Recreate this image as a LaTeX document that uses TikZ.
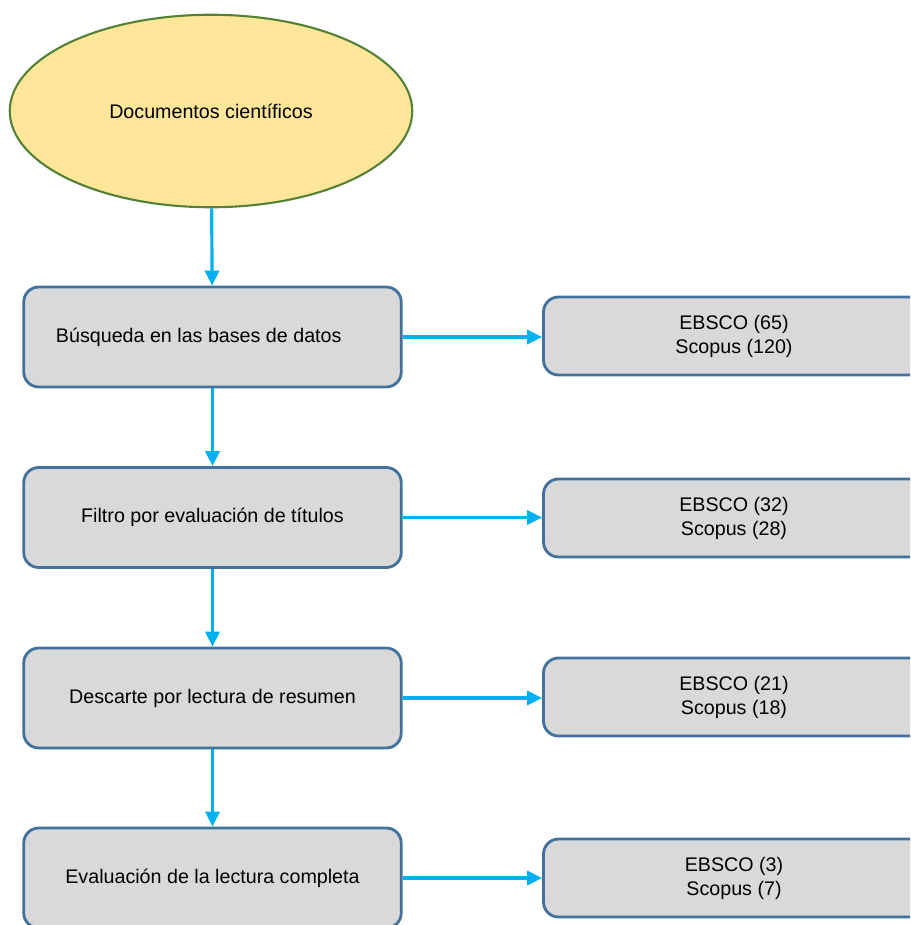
\documentclass[tikz,border=0pt]{standalone}
\usepackage{fontspec}
\setmainfont{Liberation Sans}
\usepackage{xcolor}
\usepackage{tikz}
\usetikzlibrary{arrows.meta, positioning}
\usetikzlibrary{shapes.geometric}

\definecolor{boxfill}{HTML}{D9D9D9}
\definecolor{boxline}{HTML}{41719C}
\definecolor{flowline}{HTML}{00B0F0}
\definecolor{ellfill}{HTML}{FFE699}
\definecolor{ellline}{HTML}{538135}

\begin{document}
\begin{tikzpicture}[
    font=\fontsize{11.2}{13.6}\selectfont,
    stepbox/.style={rectangle,rounded corners=0.3cm,draw=boxline,line width=1.6pt,fill=boxfill,minimum width=7.55cm,minimum height=2.0cm,align=center},
    countbox/.style={rectangle,rounded corners=0.3cm,draw=boxline,line width=1.6pt,fill=boxfill,minimum width=7.62cm,minimum height=1.56cm,align=center},
    flow/.style={draw=flowline,line width=1.8pt,-{Triangle[length=8.5pt,width=8pt]}}
    ]
            \clip (0,0) rectangle (18.2,-18.5);
            \node[ellipse,draw=ellline,line width=1.2pt,fill=ellfill,minimum width=8.05cm,minimum height=3.85cm](doc) at (4.22,-2.22) {Documentos científicos};
            \node[stepbox](b1) at (4.25,-6.74) {Búsqueda en las bases de datos\hspace*{0.55cm}};
            \node[stepbox](b2) at (4.25,-10.35) {Filtro por evaluación de títulos};
            \node[stepbox](b3) at (4.25,-13.96) {Descarte por lectura de resumen};
            \node[stepbox](b4) at (4.25,-17.56) {Evaluación de la lectura completa};
            \node[countbox](r1) at (14.68,-6.72) {EBSCO (65)\\Scopus (120)};
            \node[countbox](r2) at (14.68,-10.36) {EBSCO (32)\\Scopus (28)};
            \node[countbox](r3) at (14.68,-13.94) {EBSCO (21)\\Scopus (18)};
            \node[countbox](r4) at (14.68,-17.56) {EBSCO (3)\\Scopus (7)};
            \draw[flow] (doc) -- (b1);
            \draw[flow] (b1) -- (b2);
            \draw[flow] (b2) -- (b3);
            \draw[flow] (b3) -- (b4);
            \draw[flow] (b1.east) -- (b1.east -| r1.west);
            \draw[flow] (b2.east) -- (b2.east -| r2.west);
            \draw[flow] (b3.east) -- (b3.east -| r3.west);
            \draw[flow] (b4.east) -- (b4.east -| r4.west);
        \end{tikzpicture}
\end{document}
